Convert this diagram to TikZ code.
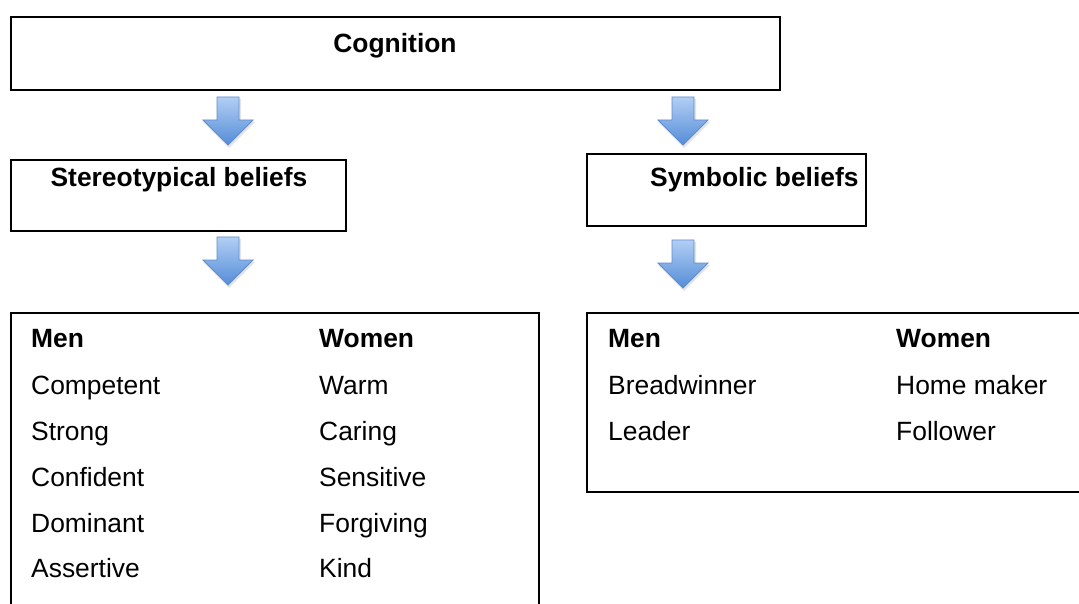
\documentclass[tikz,border=0pt]{standalone}
\usepackage{fontspec}
\setmainfont{Liberation Sans}
\definecolor{arrtop}{RGB}{178,206,244}
\definecolor{arrbot}{RGB}{84,141,216}
\definecolor{arrline}{RGB}{96,140,205}
\begin{document}
\begin{tikzpicture}[x=1pt,y=-1pt,
  box/.style={draw=black,line width=1.8pt,rectangle,inner sep=0pt,fill=white},
  txt/.style={inner sep=0pt,anchor=base west,font=\fontsize{26.4}{30}\selectfont},
  hdr/.style={inner sep=0pt,anchor=base west,font=\fontsize{26.4}{30}\selectfont\bfseries},
  downarrow/.pic={
    \fill[gray!35,opacity=0.6] (-10,2) -- (13,2) -- (13,25) -- (27,25) -- (1,51) -- (-25,25) -- (-10,25) -- cycle;
    \draw[arrline,line width=0.8pt,top color=arrtop,bottom color=arrbot]
      (-11,0) -- (11,0) -- (11,23) -- (25,23) -- (0,48) -- (-25,23) -- (-11,23) -- cycle;
  }]
\useasboundingbox (0,0) rectangle (1079,604);
\fill[white] (0,0) rectangle (1079,604);

% boxes
\node[box,minimum width=769pt,minimum height=73pt] (cog) at (395.5,53.5) {};
\node[box,minimum width=335pt,minimum height=71pt] (ster) at (178.5,195.5) {};
\node[box,minimum width=279pt,minimum height=72pt] (symb) at (726.5,190) {};
\node[box,minimum width=528pt,minimum height=340pt] (lbox) at (275,483) {};
\node[box,minimum width=520pt,minimum height=179pt] (rbox) at (847,402.5) {};

% titles
\node[inner sep=0pt,anchor=base,font=\fontsize{26.4}{30}\selectfont\bfseries] (tcog) at (395,53) {Cognition};
\node[inner sep=0pt,anchor=base,font=\fontsize{26.4}{30}\selectfont\bfseries] (tster) at (179,187) {Stereotypical beliefs};
\node[hdr] (tsymb) at (650,187) {Symbolic beliefs};

% arrows
\pic (a1) at (228,97) {downarrow};
\pic (a2) at (683,97) {downarrow};
\pic (a3) at (228,237) {downarrow};
\pic (a4) at (683,240) {downarrow};

% left list
\node[hdr] (lm) at (31,347) {Men};
\node[hdr] (lw) at (319,347) {Women};
\node[txt] (lm1) at (31,394) {Competent};
\node[txt] (lm2) at (31,440) {Strong};
\node[txt] (lm3) at (31,486) {Confident};
\node[txt] (lm4) at (31,532) {Dominant};
\node[txt] (lm5) at (31,577) {Assertive};
\node[txt] (lw1) at (319,394) {Warm};
\node[txt] (lw2) at (319,440) {Caring};
\node[txt] (lw3) at (319,486) {Sensitive};
\node[txt] (lw4) at (319,532) {Forgiving};
\node[txt] (lw5) at (319,577) {Kind};

% right list
\node[hdr] (rm) at (608,347) {Men};
\node[hdr] (rw) at (896,347) {Women};
\node[txt] (rm1) at (608,394) {Breadwinner};
\node[txt] (rm2) at (608,440) {Leader};
\node[txt] (rw1) at (896,394) {Home maker};
\node[txt] (rw2) at (896,440) {Follower};
\end{tikzpicture}
\end{document}
